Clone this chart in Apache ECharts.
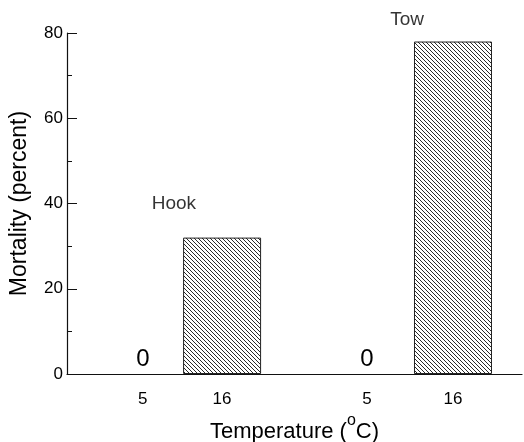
<!DOCTYPE html>
<html>
<head>
<meta charset="utf-8">
<script src="https://cdn.jsdelivr.net/npm/echarts@6/dist/echarts.min.js"></script>
<style>
html,body{margin:0;padding:0;background:#fff;}
#chart{width:524px;height:442px;}
</style>
</head>
<body>
<div id="chart"></div>
<script>
// ---- data ----
const groups = ['Hook', 'Tow'];
const temperatures = ['5', '16', '5', '16'];
const mortality = [0, 32, 0, 78];
const yTicks = [0, 20, 40, 60, 80];

// ---- layout (axis units along x, not data) ----
const slotX = [2.0, 4.09, 7.91, 10.18];
const groupLabelAt = [[2.82, 40], [8.97, 83]];

const FONT = '"Liberation Sans", Arial, Helvetica, sans-serif';

// hatch pattern
const pat = document.createElement('canvas');
pat.width = 4; pat.height = 4;
const pc = pat.getContext('2d');
pc.fillStyle = '#ffffff';
pc.fillRect(0, 0, 4, 4);
pc.fillStyle = '#2a2a2a';
for (let i = 0; i < 4; i++) pc.fillRect(i, i, 1, 1);

const chart = echarts.init(document.getElementById('chart'), null, {renderer: 'canvas'});

const barData = mortality.map((v, i) => ({
  value: [slotX[i], v],
  itemStyle: v === 0 ? {borderWidth: 0} : undefined
}));
const labelData = groups.map((g, i) => ({value: groupLabelAt[i], name: g}));

chart.setOption({
  animation: false,
  backgroundColor: '#ffffff',
  grid: {left: 67, right: 2, top: 33, bottom: 68, containLabel: false, outerBoundsMode: 'none'},
  xAxis: {
    type: 'value',
    min: 0, max: 12,
    axisLine: {show: true, onZero: false, lineStyle: {color: '#111', width: 1.2}},
    axisTick: {show: false},
    splitLine: {show: false},
    axisLabel: {
      customValues: slotX,
      formatter: (v) => { const i = slotX.indexOf(v); return i >= 0 ? temperatures[i] : ''; },
      fontFamily: FONT, fontSize: 17, color: '#000', margin: 17
    },
    name: '{t|Temperature (}{sup|o}{t|C)}',
    nameLocation: 'middle',
    nameGap: 33,
    nameTextStyle: {
      fontFamily: FONT, fontSize: 22, color: '#000',
      rich: {
        t: {fontFamily: FONT, fontSize: 22, color: '#000', lineHeight: 26, padding: [8, 0, 0, 0], verticalAlign: 'top'},
        sup: {fontFamily: FONT, fontSize: 16, color: '#000', lineHeight: 16, verticalAlign: 'top'}
      }
    }
  },
  yAxis: {
    type: 'value',
    min: 0, max: 80, interval: 20,
    axisLine: {show: true, lineStyle: {color: '#111', width: 1.2}},
    axisTick: {show: true, inside: true, length: 10, lineStyle: {color: '#111'}},
    minorTick: {show: true, splitNumber: 2, length: 5, lineStyle: {color: '#111'}},
    splitLine: {show: false},
    axisLabel: {
      fontFamily: FONT, fontSize: 17, color: '#000', margin: 4,
      formatter: (v) => yTicks.includes(v) ? String(v) : ''
    },
    name: 'Mortality (percent)',
    nameLocation: 'middle',
    nameGap: 36,
    nameTextStyle: {fontFamily: FONT, fontSize: 23, color: '#000'}
  },
  series: [
    {
      type: 'bar',
      data: barData,
      barWidth: 78,
      itemStyle: {
        color: {image: pat, repeat: 'repeat'},
        borderColor: '#222', borderWidth: 1
      },
      label: {
        show: true, position: 'top', distance: 3,
        fontFamily: FONT, fontSize: 24, color: '#000',
        formatter: (p) => p.value[1] === 0 ? '0' : ''
      }
    },
    {
      type: 'scatter',
      data: labelData,
      symbolSize: 0,
      clip: false,
      silent: true,
      itemStyle: {color: '#000'},
      label: {
        show: true, position: 'inside',
        fontFamily: FONT, fontSize: 19, color: '#000',
        textBorderWidth: 0,
        formatter: (p) => p.name
      }
    }
  ]
});
</script>
</body>
</html>
